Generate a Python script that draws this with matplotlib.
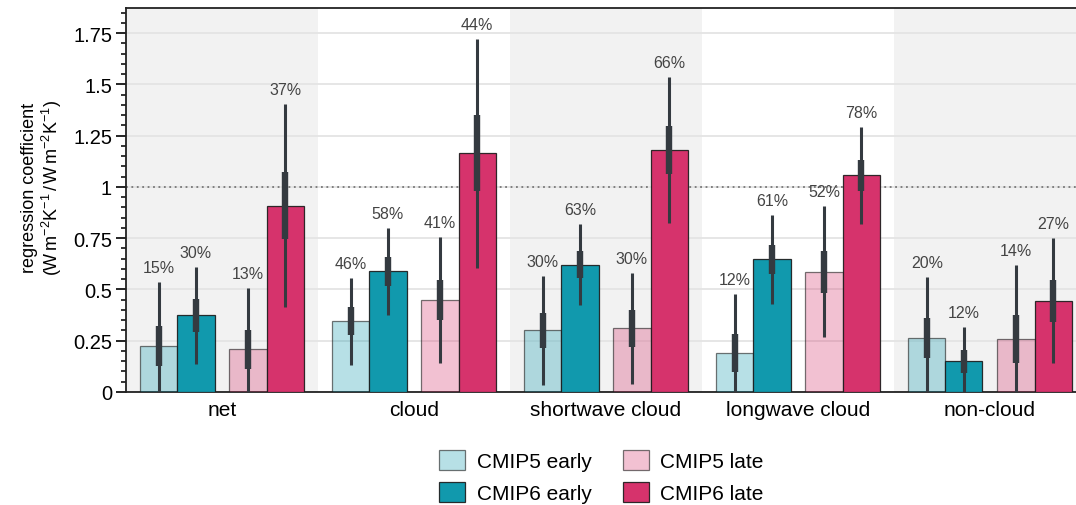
import numpy as np
import matplotlib
matplotlib.use("Agg")
import matplotlib.pyplot as plt
from matplotlib.patches import Patch
from matplotlib.ticker import MultipleLocator, FuncFormatter

plt.rcParams["font.family"] = ["Liberation Sans", "DejaVu Sans"]
plt.rcParams["mathtext.fontset"] = "custom"
plt.rcParams["mathtext.rm"] = "Liberation Sans"
plt.rcParams["mathtext.it"] = "Liberation Sans:italic"
plt.rcParams["axes.unicode_minus"] = True

categories = ["net", "cloud", "shortwave cloud", "longwave cloud", "non-cloud"]
series = ["CMIP5 early", "CMIP6 early", "CMIP5 late", "CMIP6 late"]

# best-estimate regression coefficient, one row per series
coef = [
    [0.224, 0.346, 0.301, 0.189, 0.263],
    [0.375, 0.589, 0.621, 0.647, 0.150],
    [0.210, 0.449, 0.311, 0.587, 0.259],
    [0.909, 1.164, 1.180, 1.057, 0.445],
]
# outer range (thin whisker)
lo_outer = [
    [-0.05, 0.133, 0.036, -0.05, -0.05],
    [0.137, 0.377, 0.424, 0.431, -0.05],
    [-0.05, 0.141, 0.037, 0.268, -0.05],
    [0.414, 0.606, 0.823, 0.821, 0.140],
]
hi_outer = [
    [0.537, 0.558, 0.566, 0.480, 0.561],
    [0.610, 0.798, 0.821, 0.863, 0.317],
    [0.507, 0.756, 0.582, 0.906, 0.618],
    [1.405, 1.722, 1.537, 1.291, 0.750],
]
# inner range (thick whisker)
lo_inner = [
    [0.127, 0.278, 0.215, 0.096, 0.166],
    [0.293, 0.519, 0.556, 0.576, 0.093],
    [0.112, 0.351, 0.221, 0.483, 0.141],
    [0.746, 0.980, 1.062, 0.979, 0.343],
]
hi_inner = [
    [0.320, 0.415, 0.387, 0.283, 0.359],
    [0.454, 0.659, 0.688, 0.719, 0.206],
    [0.303, 0.548, 0.398, 0.689, 0.376],
    [1.075, 1.350, 1.299, 1.133, 0.545],
]
# explained variance shown above each whisker
pct = [
    [15, 46, 30, 12, 20],
    [30, 58, 63, 61, 12],
    [13, 41, 30, 52, 14],
    [37, 44, 66, 78, 27],
]

teal = "#1199ad"
pink = "#d6336c"
face_colors = [(teal, 0.3), (teal, 1.0), (pink, 0.3), (pink, 1.0)]
bar_w = 0.193
pair_off = 0.232
offsets = [-pair_off - bar_w / 2, -pair_off + bar_w / 2,
           pair_off - bar_w / 2, pair_off + bar_w / 2]
whisker_col = "#343a40"

fig = plt.figure(figsize=(10.76, 5.06), dpi=100)
ax = fig.add_axes([126 / 1076, 1 - 393 / 506, 1 - 126 / 1076, 384 / 506])

x = np.arange(len(categories))

# alternating background bands
for i in x[::2]:
    ax.axvspan(i - 0.5, i + 0.5, color="#f2f2f2", lw=0, zorder=0)

for k in range(len(series)):
    col, a = face_colors[k]
    fc = matplotlib.colors.to_rgba(col, a)
    ec = (0.1, 0.1, 0.1, 0.6 if a < 1 else 0.9)
    xs = x + offsets[k]
    ax.bar(xs, coef[k], width=bar_w, color=fc, edgecolor=ec, linewidth=0.9,
           zorder=3)
    ax.vlines(xs, lo_outer[k], hi_outer[k], color=whisker_col, lw=2.2, zorder=4)
    ax.vlines(xs, lo_inner[k], hi_inner[k], color=whisker_col, lw=4.6, zorder=4)
    for xi, top, p in zip(xs, hi_outer[k], pct[k]):
        ax.annotate(f"{p}%", (xi, top), xytext=(0, 5), textcoords="offset points",
                    ha="center", va="bottom", fontsize=11.5, color="#444444",
                    zorder=5)

ax.axhline(1, color="#777777", ls=(0, (1, 2)), lw=1.3, zorder=2)

ax.set_xlim(-0.5, 4.448)
ax.set_ylim(0, 1.873)
ax.set_xticks(x)
ax.set_xticklabels(categories, fontsize=15)
ax.tick_params(axis="x", length=0, pad=6)

ax.yaxis.set_major_locator(MultipleLocator(0.25))
ax.yaxis.set_minor_locator(MultipleLocator(0.05))
ax.yaxis.set_major_formatter(FuncFormatter(lambda v, _: f"{v:g}"))
ax.tick_params(axis="y", which="major", length=7, width=1.2, labelsize=14.5, pad=3)
ax.tick_params(axis="y", which="minor", length=3.5, width=1.1)
ax.yaxis.grid(True, which="major", color="#e4e4e4", lw=1.3, zorder=1)
ax.set_axisbelow(True)

for side in ["left", "bottom", "top"]:
    ax.spines[side].set_linewidth(1.3)
    ax.spines[side].set_color("#222222")
ax.spines["right"].set_visible(False)

ax.set_ylabel("regression coefficient\n"
              r"(W$\,$m$^{-2}$K$^{-1}$$\,$/$\,$W$\,$m$^{-2}$K$^{-1}$)",
              fontsize=13, linespacing=1.1)
ax.yaxis.set_label_coords(-0.065, 0.535)

handles = [Patch(facecolor=matplotlib.colors.to_rgba(c, a),
                 edgecolor=(0.1, 0.1, 0.1, 0.6 if a < 1 else 0.9), lw=0.9)
           for c, a in face_colors]
# two columns: early models left, late models right
fig.legend(handles, series, loc="upper center", ncol=2,
           bbox_to_anchor=(0.559, 0.13), frameon=False, fontsize=15,
           handlelength=1.25, handleheight=1.1, handletextpad=0.55,
           columnspacing=1.5, labelspacing=0.55, borderpad=0)

fig.savefig("out.png", dpi=100)
